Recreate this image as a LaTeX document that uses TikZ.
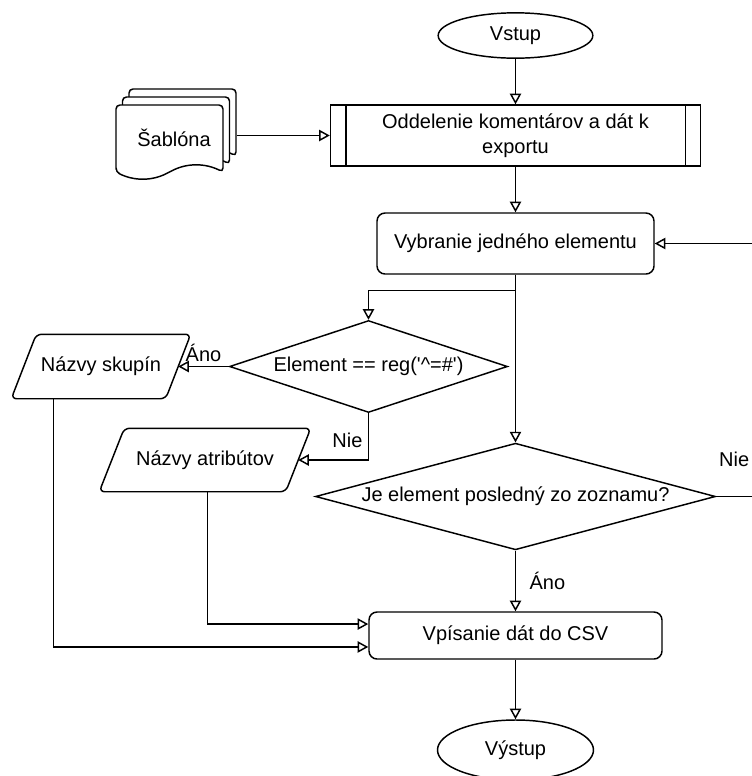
\documentclass[tikz,border=0pt]{standalone}
\usepackage{fontspec}
\setmainfont{Liberation Sans}[Ligatures=TeXOff]
\usetikzlibrary{shapes.geometric,arrows.meta,calc}
\begin{document}
\begin{tikzpicture}[x=0.75pt,y=-0.75pt,line width=1.1pt,
  font=\fontsize{15}{18.75}\selectfont,
  flow/.style={-{Triangle[open,length=8pt,width=8.5pt]}},
  term/.style={draw,ellipse,inner sep=0pt},
  procbox/.style={draw,rectangle,inner sep=0pt,align=center},
  act/.style={draw,rounded corners=6pt,inner sep=0pt},
  test/.style={draw,diamond,inner sep=0pt},
  data/.style={rectangle,inner sep=0pt},
  lbl/.style={inner sep=2pt}]
  \useasboundingbox (0,0) rectangle (752,776);

  % vstup a predspracovanie
  \node[term,minimum width=116pt,minimum height=34pt] (vstup) at (515.5,35.5) {Vstup};
  \node[procbox,minimum width=277.5pt,minimum height=45.75pt] (oddel) at (515.5,135.5)
    {Oddelenie komentárov a dát k\\exportu};
  \draw ([xshift=12pt]oddel.north west) -- ([xshift=12pt]oddel.south west);
  \draw ([xshift=-12pt]oddel.north east) -- ([xshift=-12pt]oddel.south east);

  % sablona (tri dokumenty)
  \foreach \s in {2,1,0}
    \draw[fill=white,rounded corners=3pt,shift={(6.5*\s,-8*\s)}]
      (116,172) -- (116,105) -- (223,105) -- (223,172)
      .. controls (205.2,163) and (187.3,163) .. (169.5,172)
      .. controls (151.7,181) and (133.8,181) .. cycle;
  \node[minimum width=90pt,minimum height=69pt,inner sep=0pt] (sablona) at (176,135.5) {};
  \node (sablonatxt) at (174,138) {Šablóna};

  % cyklus
  \node[act,minimum width=207.75pt,minimum height=45.75pt] (vyber) at (515.5,243.5)
    {Vybranie jedného elementu};
  \node[test,minimum width=208.5pt,minimum height=69pt,aspect=3] (elem) at (368.5,366.5)
    {Element == reg('\textasciicircum=\#')};
  \node[data,minimum width=133.5pt,minimum height=47.25pt] (skupin) at (101,366.5) {Názvy skupín};
  \draw[rounded corners=4pt] ([xshift=18.75pt]skupin.north west) -- (skupin.north east)
    -- ([xshift=-18.75pt]skupin.south east) -- (skupin.south west) -- cycle;
  \node[data,minimum width=157.5pt,minimum height=46.5pt] (atrib) at (205,460) {Názvy atribútov};
  \draw[rounded corners=4pt] ([xshift=18.75pt]atrib.north west) -- (atrib.north east)
    -- ([xshift=-18.75pt]atrib.south east) -- (atrib.south west) -- cycle;
  \node[test,minimum width=300pt,minimum height=80pt,aspect=3.7] (posl) at (515.5,496.5)
    {Je element posledný zo zoznamu?};

  % vystup
  \node[act,minimum width=219.75pt,minimum height=35.25pt] (vpis) at (515.5,635.5)
    {Vpísanie dát do CSV};
  \node[term,minimum width=117pt,minimum height=45pt] (vystup) at (515.5,750) {Výstup};

  \draw[flow] (vstup) -- (oddel);
  \draw[flow] (sablona) -- (oddel);
  \draw[flow] (oddel) -- (vyber);
  \draw[flow] (vyber) -- (posl);
  \draw[flow] (vyber.south) -- ++(0,16) -| (elem.north);
  \draw[flow] (elem.west) -- node[lbl,above=1pt] (ano1) {Áno} ([xshift=-9.4pt]skupin.east);
  \draw[flow] (elem.south) |- node[lbl,pos=0.29,left=2pt] (nie1) {Nie} ([xshift=-9.4pt]atrib.east);
  \draw[flow] (posl.east) -- node[lbl,pos=0.4,above=20pt] (nie2) {Nie} ++(45,0) |- (vyber.east);
  \draw[flow] (posl) -- node[lbl,right=8pt] (ano2) {Áno} (vpis);
  \draw[flow] ([xshift=2pt]atrib.south) |- ([yshift=8.6pt]vpis.west);
  \draw[flow] ([xshift=31.5pt]skupin.south west) |- ([yshift=-8.6pt]vpis.west);
  \draw[flow] (vpis) -- (vystup);
\end{tikzpicture}
\end{document}
